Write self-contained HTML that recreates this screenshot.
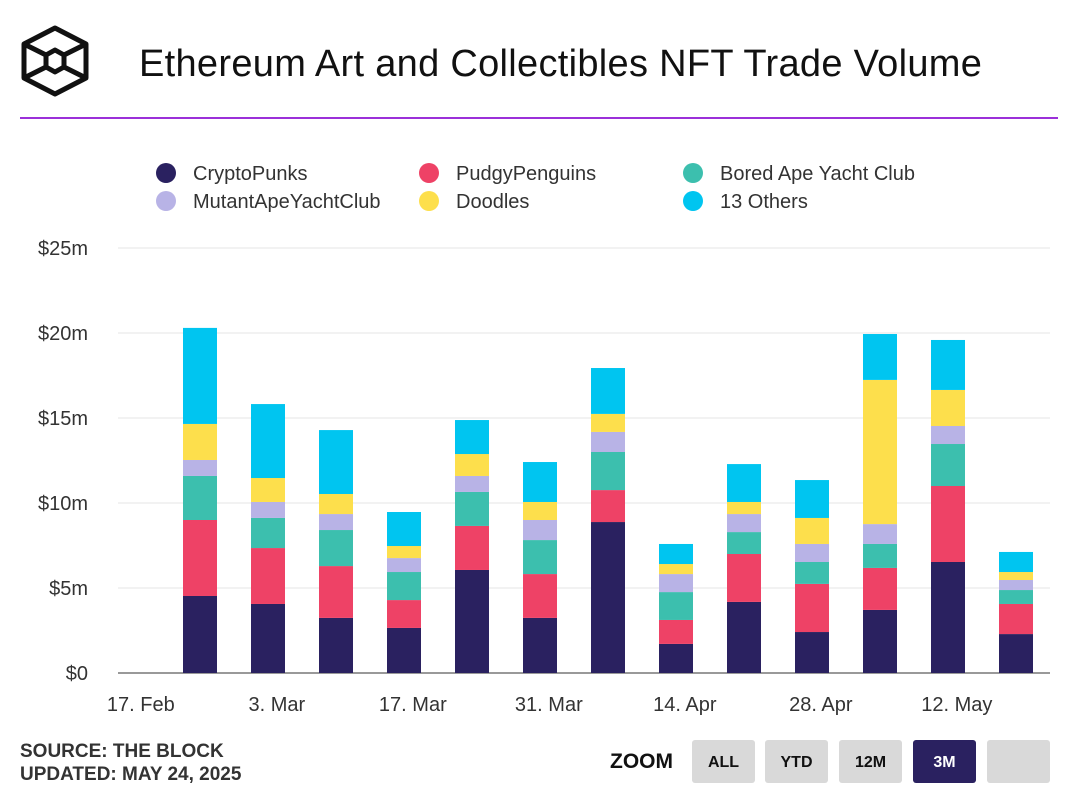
<!DOCTYPE html>
<html><head><meta charset="utf-8"><style>
body{margin:0;width:1078px;height:802px;background:#fff;font-family:"Liberation Sans",sans-serif;overflow:hidden;position:relative}
.abs{position:absolute}
.btn{position:absolute;top:740px;width:63px;height:43px;background:#d9d9d9;border-radius:3px;font-weight:bold;font-size:16px;color:#111;text-align:center;line-height:45px}
</style></head><body>
<svg class="abs" style="left:0;top:0" width="100" height="110">
<g fill="none" stroke="#111" stroke-width="5" stroke-linejoin="round">
<polygon points="55,28 86,44 86,78 55,94 24,78 24,44"/>
<polygon points="55,50 64,55 64,67 55,72 46,67 46,55"/>
<line x1="24" y1="44" x2="46" y2="55"/><line x1="86" y1="44" x2="64" y2="55"/>
<line x1="24" y1="78" x2="46" y2="67"/><line x1="86" y1="78" x2="64" y2="67"/>
</g></svg>
<div class="abs" style="left:139px;top:43px;font-size:38px;letter-spacing:0.3px;color:#111">Ethereum Art and Collectibles NFT Trade Volume</div>
<div class="abs" style="left:20px;top:117px;width:1038px;height:2px;background:#9b30d9"></div>
<svg id="chart" class="abs" style="left:0;top:0" width="1078" height="802"></svg>
<div class="abs" style="left:20px;top:740px;font-weight:bold;font-size:19px;color:#333;line-height:23px">SOURCE: THE BLOCK<br>UPDATED: MAY 24, 2025</div>
<div class="abs" style="left:610px;top:750px;font-weight:bold;font-size:21px;color:#111">ZOOM</div>
<div class="btn" style="left:692px">ALL</div>
<div class="btn" style="left:765px">YTD</div>
<div class="btn" style="left:839px">12M</div>
<div class="btn" style="left:913px;background:#2a2160;color:#fff">3M</div>
<div class="btn" style="left:987px"></div>
<script>
const series = ["CryptoPunks","PudgyPenguins","Bored Ape Yacht Club","MutantApeYachtClub","Doodles","13 Others"];
const colors = ["#2a2160","#ee4266","#3cbfae","#b8b3e6","#fddf4c","#00c5f0"];
const cryptoPunks = [4.53,4.06,3.24,2.65,6.06,3.24,8.88,1.71,4.18,2.41,3.71,6.53,2.29];
const pudgyPenguins = [4.47,3.29,3.05,1.64,2.59,2.58,1.88,1.41,2.82,2.83,2.47,4.47,1.77];
const boredApe = [2.59,1.77,2.12,1.65,2.0,2.0,2.24,1.64,1.29,1.29,1.41,2.47,0.82];
const mutantApe = [0.94,0.94,0.94,0.82,0.94,1.18,1.18,1.06,1.06,1.06,1.17,1.06,0.59];
const doodles = [2.12,1.41,1.18,0.71,1.29,1.06,1.06,0.59,0.71,1.53,8.48,2.12,0.47];
const others = [5.65,4.35,3.76,2.0,2.0,2.35,2.7,1.18,2.23,2.23,2.7,2.94,1.18];
const yTicks = [0,5,10,15,20,25];
const yTickLabels = ["$0","$5m","$10m","$15m","$20m","$25m"];
const xTickWeeks = [-0.87,1.13,3.13,5.13,7.13,9.13,11.13];
const xTickLabels = ["17. Feb","3. Mar","17. Mar","31. Mar","14. Apr","28. Apr","12. May"];
const data=[cryptoPunks,pudgyPenguins,boredApe,mutantApe,doodles,others];
const y=v=>673-v*17, x=i=>200+i*68;
const svg=document.getElementById('chart'),NS="http://www.w3.org/2000/svg";
function mk(t,a){const e=document.createElementNS(NS,t);for(const k in a)e.setAttribute(k,a[k]);svg.appendChild(e);return e;}
yTicks.forEach((t,i)=>{
 const l=mk('line',{x1:118,x2:1050,y1:y(t),y2:y(t),stroke:t===0?'#333':'#e6e6e6','stroke-width':1});
 
 
 const tx=mk('text',{x:88,y:y(t)+7,'text-anchor':'end','font-size':20,fill:'#333','font-family':'Liberation Sans'});
 tx.textContent=yTickLabels[i];
 
 
});
xTickWeeks.forEach((w,i)=>{
 const tx=mk('text',{x:x(w),y:711,'text-anchor':'middle','font-size':20,fill:'#333','font-family':'Liberation Sans'});
 tx.textContent=xTickLabels[i];
 
 
});
cryptoPunks.forEach((_,i)=>{
 let acc=0;
 data.forEach((s,k)=>{
  const r=mk('rect',{x:x(i)-17,width:34,y:y(acc+s[i]),height:s[i]*17,fill:colors[k]});
  
  
  acc+=s[i];
 });
});
const lx=[166,429,693];
series.forEach((n,k)=>{
 const cx=lx[k%3],cy=k<3?173:201;
 const c=mk('circle',{cx:cx,cy:cy,r:10,fill:colors[k]});
 
 
 const t=mk('text',{x:cx+27,y:cy+7,'font-size':20,fill:'#333','font-family':'Liberation Sans'});
 t.textContent=n;
 
 
});
</script>
</body></html>
